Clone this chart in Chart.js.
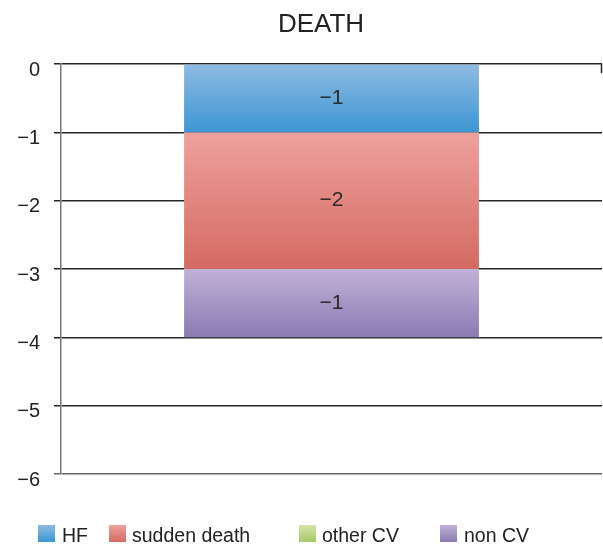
<!DOCTYPE html>
<html>
<head>
<meta charset="utf-8">
<script src="https://cdn.jsdelivr.net/npm/chart.js@4/dist/chart.umd.min.js"></script>
<style>
  html, body { margin: 0; padding: 0; background: #fff; }
  #wrap { position: relative; width: 603px; height: 546px; }
  #c { position: absolute; left: 0; top: 0; }
  #title { position: absolute; left: 221px; width: 200px; top: 8px; text-align: center; font-family: "Liberation Sans", Arial, sans-serif; font-size: 26px; line-height: 30px; color: #222; }
  .lg { position: absolute; top: 525px; height: 17px; font-family: "Liberation Sans", Arial, sans-serif; font-size: 19.5px; color: #222; line-height: 18px; white-space: nowrap; }
  .lg .bx { position: absolute; left: 0; top: 0; width: 17px; height: 17px; }
  .lg .tx { position: absolute; top: 1px; }
</style>
</head>
<body>
<div id="wrap">
  <canvas id="c" width="603" height="546"></canvas>
  <div id="title"></div>
  <div id="legend"></div>
</div>
<script>
const title = "DEATH";
const categories = ["DEATH"];
const seriesNames = ["HF", "sudden death", "other CV", "non CV"];
const hfValues = [-1];
const suddenDeathValues = [-2];
const otherCvValues = [0];
const nonCvValues = [-1];
const yTicks = [0, -1, -2, -3, -4, -5, -6];

const seriesValues = [hfValues, suddenDeathValues, otherCvValues, nonCvValues];
const gradStops = [
  ["#8fbbe3", "#3c96d3"],
  ["#efa19e", "#d46a62"],
  ["#d7e5a8", "#a5c869"],
  ["#c1b1d7", "#8a7ab3"]
];
const legendPos = [[38, 62], [109, 132], [299, 322], [440, 464]];

function fmt(v) { return v < 0 ? "\u2212" + Math.abs(v) : String(v); }

function gradFor(di) {
  return function(ctx) {
    const chart = ctx.chart;
    const ys = chart.scales.y;
    if (!ys || !chart.chartArea) return gradStops[di][1];
    const idx = ctx.dataIndex || 0;
    let start = 0;
    for (let k = 0; k < di; k++) start += seriesValues[k][idx];
    const end = start + seriesValues[di][idx];
    const p0 = ys.getPixelForValue(start), p1 = ys.getPixelForValue(end);
    if (!isFinite(p0) || !isFinite(p1) || p0 === p1) return gradStops[di][1];
    const g = chart.ctx.createLinearGradient(0, p0, 0, p1);
    g.addColorStop(0, gradStops[di][0]);
    g.addColorStop(1, gradStops[di][1]);
    return g;
  };
}

const labelPlugin = {
  id: "barLabels",
  afterDatasetsDraw(chart) {
    const ctx = chart.ctx;
    ctx.save();
    ctx.font = '21px "Liberation Sans", Arial, sans-serif';
    ctx.fillStyle = "#2a2a2a";
    ctx.textAlign = "center";
    ctx.textBaseline = "middle";
    chart.data.datasets.forEach((ds, di) => {
      const meta = chart.getDatasetMeta(di);
      meta.data.forEach((el, i) => {
        const v = ds.data[i];
        if (!v) return;
        ctx.fillText(fmt(v), el.x, (el.y + el.base) / 2);
      });
    });
    ctx.restore();
  }
};

const cornerTick = {
  id: "cornerTick",
  afterDraw(chart) {
    const a = chart.chartArea;
    const ctx = chart.ctx;
    ctx.save();
    ctx.strokeStyle = "#222";
    ctx.lineWidth = 1.5;
    ctx.beginPath();
    ctx.moveTo(a.right - 0.5, a.top);
    ctx.lineTo(a.right - 0.5, a.top + 9);
    ctx.stroke();
    ctx.restore();
  }
};

document.getElementById("title").textContent = title;

new Chart(document.getElementById("c"), {
  type: "bar",
  data: {
    labels: categories,
    datasets: seriesNames.map((n, i) => ({
      label: n,
      data: seriesValues[i],
      backgroundColor: gradFor(i),
      borderWidth: 0,
      categoryPercentage: 1,
      barPercentage: 0.545
    }))
  },
  options: {
    responsive: false,
    animation: false,
    layout: { padding: { left: 0, right: 1, top: 64, bottom: 72 } },
    plugins: {
      legend: { display: false },
      tooltip: { enabled: false },
      title: { display: false }
    },
    scales: {
      x: { stacked: true, display: false },
      y: {
        stacked: true,
        min: -6,
        max: 0,
        afterFit(s) { s.width = 61; },
        afterBuildTicks(s) { s.ticks = yTicks.map(v => ({ value: v })); },
        border: { display: true, color: "#777", width: 1.5 },
        grid: {
          color: (c) => c.tick && c.tick.value === -6 ? "#666" : "#262626",
          lineWidth: 1.5,
          tickLength: 7,
          drawTicks: true
        },
        ticks: {
          padding: 14,
          labelOffset: 6,
          color: "#222",
          font: { family: '"Liberation Sans", Arial, sans-serif', size: 20 },
          callback: (v) => fmt(v)
        }
      }
    }
  },
  plugins: [labelPlugin, cornerTick]
});

const lg = document.getElementById("legend");
seriesNames.forEach((n, i) => {
  const d = document.createElement("div");
  d.className = "lg";
  d.style.left = legendPos[i][0] + "px";
  const b = document.createElement("div");
  b.className = "bx";
  b.style.background = "linear-gradient(" + gradStops[i][0] + "," + gradStops[i][1] + ")";
  const t = document.createElement("div");
  t.className = "tx";
  t.style.left = (legendPos[i][1] - legendPos[i][0]) + "px";
  t.textContent = n;
  d.appendChild(b); d.appendChild(t);
  lg.appendChild(d);
});
</script>
</body>
</html>
